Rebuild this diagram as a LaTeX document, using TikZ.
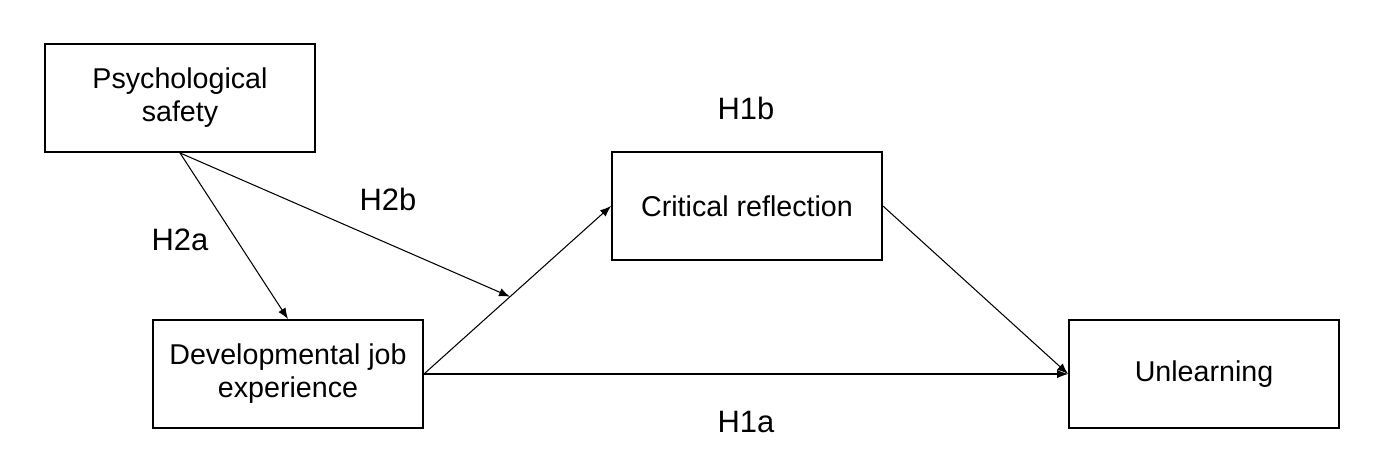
\documentclass[tikz,border=0pt]{standalone}
\usepackage{fontspec}
\setmainfont{Liberation Sans}
\usetikzlibrary{arrows.meta}
\tikzset{
  varbox/.style={draw, line width=1.1pt, minimum width=5.4cm, minimum height=2.16cm,
    inner sep=0pt, align=center, font=\fontsize{16.3}{18.8}\selectfont},
  hyplabel/.style={font=\fontsize{17.6}{20}\selectfont},
  path arrow/.style={line width=0.6pt, -{Latex[length=2.2mm,width=1.7mm]}}
}
\begin{document}
\begin{tikzpicture}[x=0.02cm, y=-0.02cm]
    \useasboundingbox (0,0) rectangle (1374,466);
    \node [varbox] (psych) at (180,98) {Psychological\\safety};
    \node [varbox] (devjob) at (288,374) {Developmental job\\experience};
    \node [varbox] (critref) at (747,206) {Critical reflection};
    \node [varbox] (unlearn) at (1204,374) {Unlearning};
    \node [hyplabel] (h2a) at (180,240) {H2a};
    \node [hyplabel] (h2b) at (388,199) {H2b};
    \node [hyplabel] (h1b) at (746,108) {H1b};
    \node [hyplabel] (h1a) at (746,422) {H1a};
    \path (devjob.east) -- coordinate[pos=0.46] (moderate) (critref.west);
    \draw [path arrow] (psych.south) -- (devjob.north);
    \draw [path arrow] (psych.south) -- (moderate);
    \draw [path arrow] (devjob.east) -- (critref.west);
    \draw [path arrow] (critref.east) -- (unlearn.west);
    \draw [path arrow] (devjob.east) -- (unlearn.west);
  \end{tikzpicture}
\end{document}
